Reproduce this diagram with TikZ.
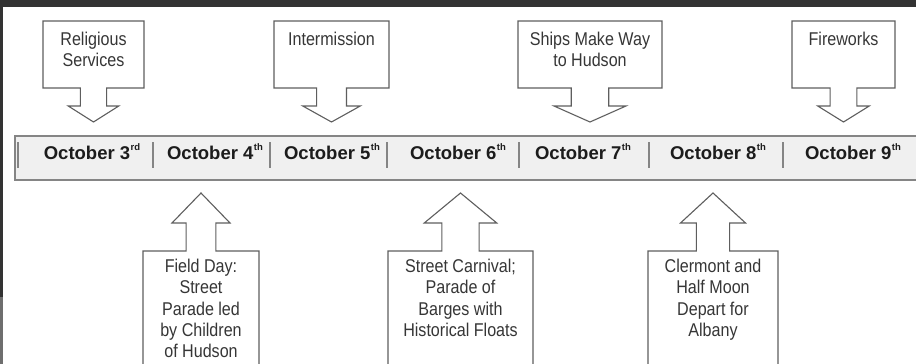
\documentclass[tikz,border=0pt]{standalone}
\usepackage{fontspec}
\setmainfont{Liberation Sans}
\newfontfamily\boxfont[FakeStretch=0.87]{Liberation Sans}
\definecolor{framedark}{HTML}{333333}
\definecolor{framegrey}{HTML}{6E6E6E}
\definecolor{boxline}{HTML}{5E5E5E}
\definecolor{boxtxt}{HTML}{363636}
\definecolor{barfill}{HTML}{F0F0F0}
\definecolor{barline}{HTML}{858585}
\definecolor{septxt}{HTML}{1C1C1C}
\newcommand\ordsup[1]{\kern0.5pt\raisebox{0.45em}{\fontsize{9.5}{10}\selectfont #1}}
\tikzset{
  callout/.style={draw=boxline, line width=1.1pt, fill=white, line join=miter},
  boxtext/.style={inner sep=0pt, align=center, text=boxtxt,
    font=\boxfont\fontsize{18.5}{21.3}\selectfont, anchor=north},
  datelabel/.style={inner sep=0pt, anchor=base, text=septxt,
    font=\bfseries\fontsize{18.5}{20}\selectfont},
  sepline/.style={draw=barline, line width=1.1pt},
}
% top callout: left, right
\newcommand\downcallout[2]{%
  \pgfmathsetmacro\cxa{(#1+#2)/2}%
  \pgfmathsetmacro\hwa{(#2-#1)/4}%
  \pgfmathsetmacro\swa{(#2-#1)*0.13}%
  \draw[callout] (#1,21) -- (#2,21) -- (#2,88) -- (\cxa+\swa,88) -- (\cxa+\swa,106)
    -- (\cxa+\hwa,106) -- (\cxa,122) -- (\cxa-\hwa,106) -- (\cxa-\swa,106)
    -- (\cxa-\swa,88) -- (#1,88) -- cycle;}
% bottom callout: left, right
\newcommand\upcallout[2]{%
  \pgfmathsetmacro\cxb{(#1+#2)/2}%
  \pgfmathsetmacro\hwb{(#2-#1)/4}%
  \pgfmathsetmacro\swb{(#2-#1)*0.128}%
  \draw[callout] (#1,367) -- (#1,251) -- (\cxb-\swb,251) -- (\cxb-\swb,223)
    -- (\cxb-\hwb,223) -- (\cxb,193) -- (\cxb+\hwb,223) -- (\cxb+\swb,223)
    -- (\cxb+\swb,251) -- (#2,251) -- (#2,367);}
\begin{document}
\begin{tikzpicture}[x=1pt,y=-1pt]
\useasboundingbox (0,0) rectangle (916,364);
\fill[white] (0,0) rectangle (916,364);
% frame strips
\fill[framedark] (0,0) rectangle (916,7);
\fill[framedark] (0,0) rectangle (3,297);
\fill[framegrey] (0,297) rectangle (3,364);

% top callouts
\downcallout{43}{144}
\downcallout{274}{389}
\downcallout{518}{662}
\downcallout{792}{895}
\node[boxtext] (relig) at (93.5,32) {Religious\\Services};
\node[boxtext] (inter) at (331.5,32) {Intermission};
\node[boxtext] (ships) at (590,32) {Ships Make Way\\to Hudson};
\node[boxtext] (fire) at (843.5,32) {Fireworks};

% timeline bar
\draw[draw=barline, fill=barfill, line width=1.1pt] (15,136) rectangle (925,180);
\foreach \sx in {18,153,270,387,519,649,783}
  \draw[sepline] (\sx,142) -- (\sx,168);
\node[datelabel] (d3) at (92,159) {October 3\ordsup{rd}};
\node[datelabel] (d4) at (215,159) {October 4\ordsup{th}};
\node[datelabel] (d5) at (332,159) {October 5\ordsup{th}};
\node[datelabel] (d6) at (458,159) {October 6\ordsup{th}};
\node[datelabel] (d7) at (583,159) {October 7\ordsup{th}};
\node[datelabel] (d8) at (718,159) {October 8\ordsup{th}};
\node[datelabel] (d9) at (853,159) {October 9\ordsup{th}};

% bottom callouts
\upcallout{143}{259}
\upcallout{388}{533}
\upcallout{648}{778}
\node[boxtext] (field) at (201,259) {Field Day:\\Street\\Parade led\\by Children\\of Hudson};
\node[boxtext] (carn) at (460.5,259) {Street Carnival;\\Parade of\\Barges with\\Historical Floats};
\node[boxtext] (cler) at (713,259) {Clermont and\\Half Moon\\Depart for\\Albany};
\end{tikzpicture}
\end{document}
